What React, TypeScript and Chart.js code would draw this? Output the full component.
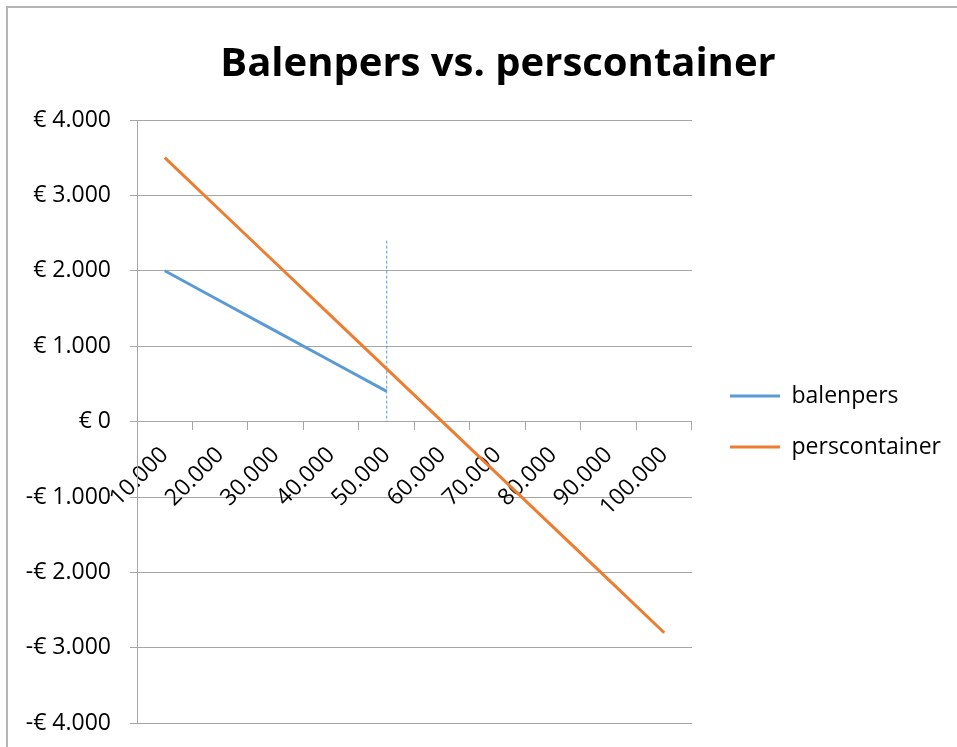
import { useEffect, useRef } from 'react';
import { Chart, registerables } from 'chart.js';

Chart.register(...registerables);

const FONT = '"Open Sans", sans-serif';

const categories = ['10.000', '20.000', '30.000', '40.000', '50.000', '60.000', '70.000', '80.000', '90.000', '100.000'];
const balenpers = [2000, 1600, 1200, 800, 400, null, null, null, null, null];
const perscontainer = [3500, 2800, 2100, 1400, 700, 0, -700, -1400, -2100, -2800];
const markerCategory = '50.000';
const markerValues = [2400, 0];
const yMin = -4000;
const yMax = 4000;
const yStep = 1000;

function euro(v: number): string {
  const abs = Math.abs(v);
  const s = abs.toString().replace(/\B(?=(\d{3})+(?!\d))/g, '.');
  return (v < 0 ? '-' : '') + '€ ' + s;
}

const CANVAS_W = 996;
const CANVAS_H = 756;

export default function App() {
  const ref = useRef<HTMLCanvasElement | null>(null);

  useEffect(() => {
    if (!ref.current) return;
    const grid = '#a6a6a6';
    const spacer = (width: number, weight: number) => ({
      type: 'linear' as const,
      position: 'right' as const,
      weight,
      display: true,
      grid: { display: false, drawTicks: false },
      border: { display: false },
      ticks: { display: false },
      afterFit: (s: any) => {
        s.width = width;
      },
    });
    const chart = new Chart(ref.current, {
      type: 'line',
      data: {
        labels: categories,
        datasets: [
          {
            label: 'balenpers',
            data: balenpers,
            borderColor: '#5B9BD5',
            backgroundColor: '#5B9BD5',
            borderWidth: 3,
            pointRadius: 0,
            tension: 0,
          },
          {
            label: 'perscontainer',
            data: perscontainer,
            borderColor: '#ED7D31',
            backgroundColor: '#ED7D31',
            borderWidth: 3,
            pointRadius: 0,
            tension: 0,
          },
          {
            label: 'marker',
            data: markerValues.map((y) => ({ x: markerCategory, y })) as any,
            borderColor: '#5B9BD5',
            borderWidth: 1,
            borderDash: [3, 2],
            pointRadius: 0,
          },
        ],
      },
      options: {
        responsive: false,
        animation: false,
        devicePixelRatio: 1,
        layout: { padding: { top: 0, left: 0, right: 0, bottom: 0 } },
        plugins: {
          tooltip: { enabled: false },
          title: {
            display: true,
            text: 'Balenpers vs. perscontainer',
            color: '#000',
            font: { family: FONT, size: 40, weight: 'bold' },
            padding: { top: 41, bottom: 31 },
          },
          legend: {
            position: 'right',
            fullSize: false,
            maxWidth: 400,
            labels: {
              color: '#000',
              font: { family: FONT, size: 23 },
              usePointStyle: true,
              pointStyle: 'line',
              pointStyleWidth: 50,
              padding: 28,
              filter: (item: any) => item.datasetIndex < 2,
            },
          },
        },
        scales: {
          x: {
            type: 'category',
            offset: true,
            position: { y: 0 } as any,
            grid: {
              offset: true,
              drawOnChartArea: false,
              drawTicks: true,
              tickLength: 8,
              color: grid,
            },
            border: { display: true, color: grid, width: 1 },
            ticks: {
              autoSkip: false,
              minRotation: 45,
              maxRotation: 45,
              padding: 12,
              color: '#000',
              font: { family: FONT, size: 23 },
            },
          },
          y: {
            min: yMin,
            max: yMax,
            afterFit: (s: any) => {
              s.width = 137;
            },
            grid: { color: grid, tickLength: 7 },
            border: { color: grid },
            ticks: {
              stepSize: yStep,
              padding: 19,
              color: '#000',
              font: { family: FONT, size: 23 },
              callback: (v: any) => euro(Number(v)),
            },
          },
          gapInner: spacer(10, 0),
          gapOuter: spacer(45, 2000),
        },
      },
    });
    return () => chart.destroy();
  }, []);

  return (
    <div style={{ position: 'fixed', left: 0, top: 0, width: 957, height: 747, overflow: 'hidden', background: '#fff' }}>
      <div
        style={{
          position: 'absolute',
          left: 6,
          top: 6,
          width: 1100,
          height: 1100,
          border: '2px solid #b4b4b4',
        }}
      />
      <canvas ref={ref} width={CANVAS_W} height={CANVAS_H} style={{ position: 'absolute', left: 0, top: 0 }} />
    </div>
  );
}
